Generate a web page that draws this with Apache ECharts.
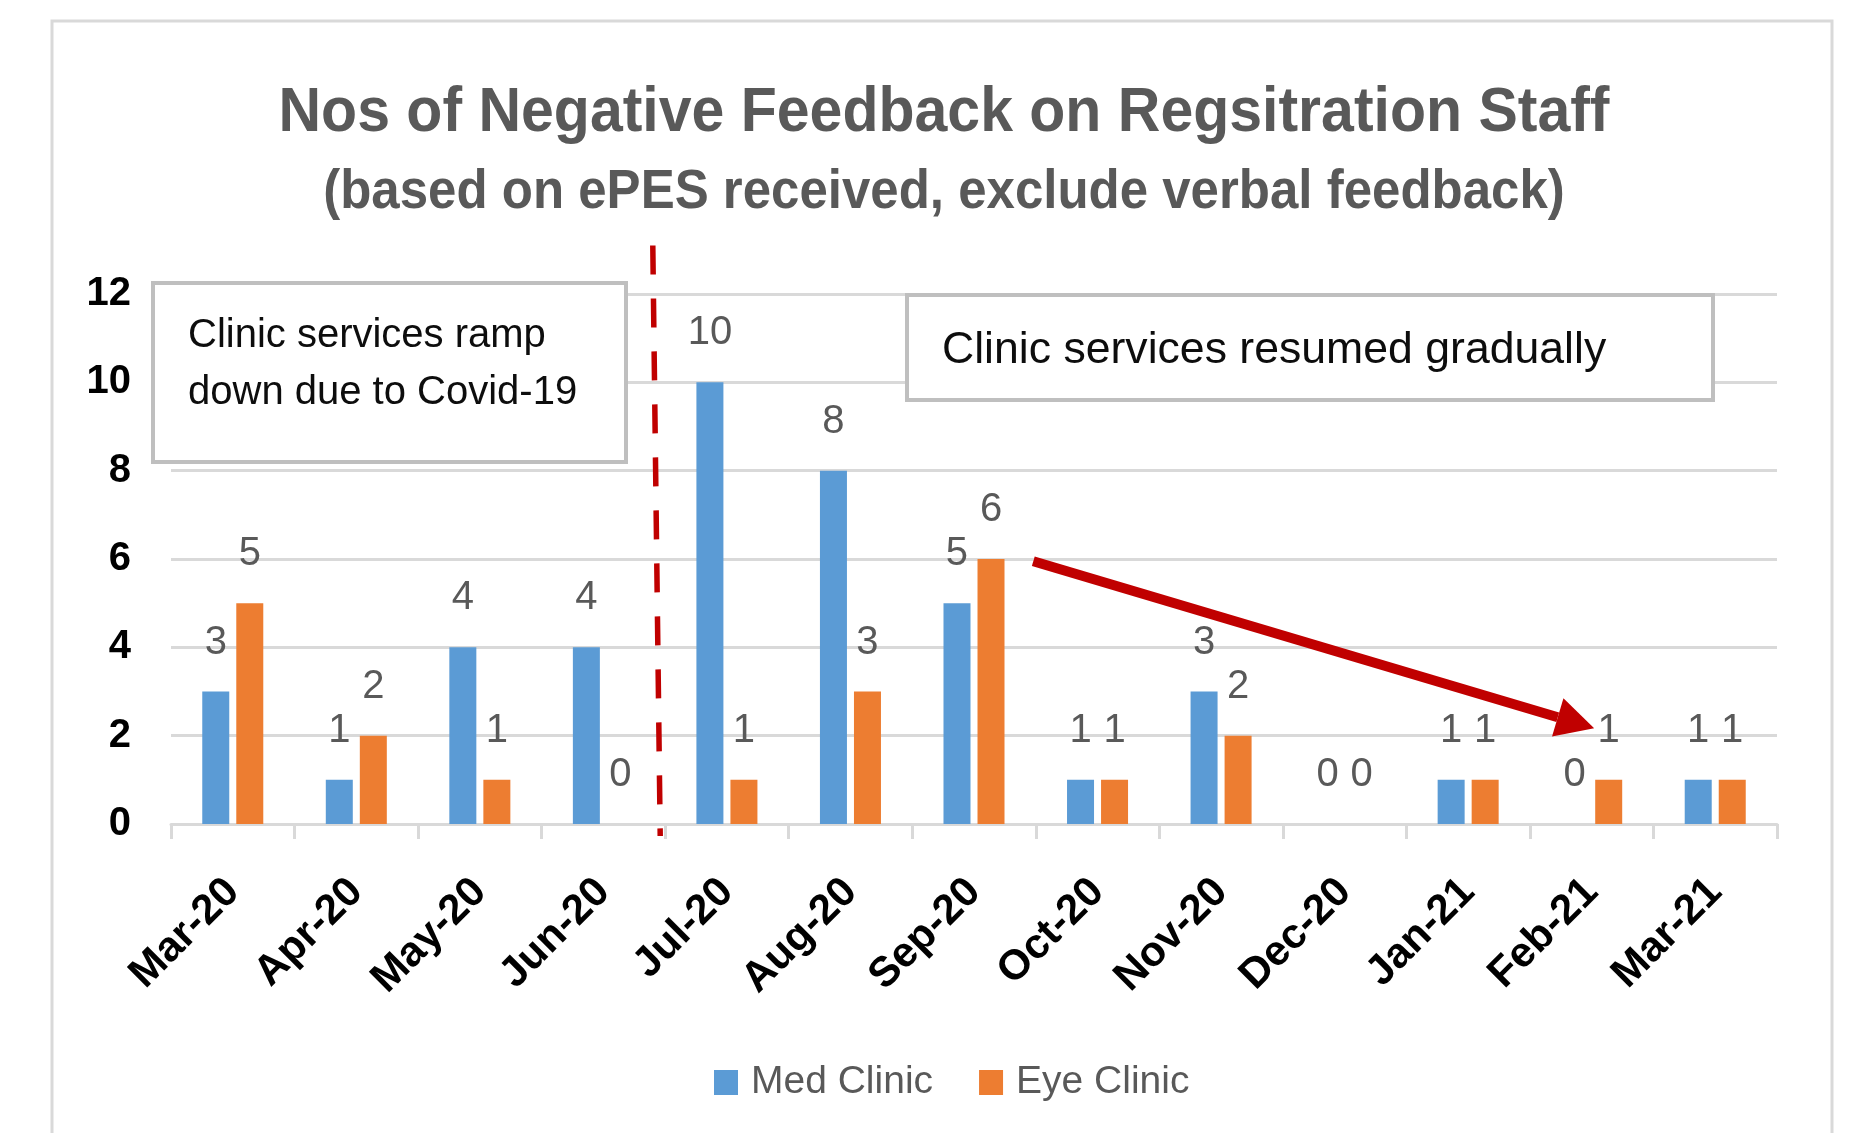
<!DOCTYPE html>
<html>
<head>
<meta charset="utf-8">
<script src="https://cdn.jsdelivr.net/npm/echarts@6/dist/echarts.min.js"></script>
<style>
html,body{margin:0;padding:0;background:#fff;}
#c{width:1851px;height:1133px;}
</style>
</head>
<body>
<div id="c"></div>
<script>
const categories = ['Mar-20','Apr-20','May-20','Jun-20','Jul-20','Aug-20','Sep-20','Oct-20','Nov-20','Dec-20','Jan-21','Feb-21','Mar-21'];
const medClinic = [3,1,4,4,10,8,5,1,3,0,1,0,1];
const eyeClinic = [5,2,1,0,1,3,6,1,2,0,1,1,1];
const yMin = 0, yMax = 12, yStep = 2;
const titleText = 'Nos of Negative Feedback on Regsitration Staff';
const subtitleText = '(based on ePES received, exclude verbal feedback)';
const note1 = ['Clinic services ramp', 'down due to Covid-19'];
const note2 = 'Clinic services resumed gradually';

const FF = "'Liberation Sans',Arial,sans-serif";
const chart = echarts.init(document.getElementById('c'), null, {renderer:'canvas'});

const labelStyle = {
  show: true, position: 'top', distance: 29,
  fontFamily: FF, fontSize: 40, lineHeight: 40, color: '#595959'
};

const option = {
  animation: false,
  backgroundColor: '#fff',
  grid: {left: 171, right: 74, top: 294, bottom: 309, containLabel: false},
  legend: {
    data: ['Med Clinic','Eye Clinic'],
    left: 709, top: 1058,
    icon: 'rect', itemWidth: 24, itemHeight: 25, itemGap: 46,
    textStyle: {fontFamily: FF, fontSize: 39, color: '#595959', padding: [0,0,0,8]}
  },
  xAxis: {
    type: 'category', data: categories,
    axisLine: {lineStyle: {color: '#D9D9D9', width: 3}},
    axisTick: {show: true, length: 15, lineStyle: {color: '#D9D9D9', width: 3}},
    axisLabel: {rotate: 45, margin: 53, verticalAlign: 'top', lineHeight: 12, padding: [0, 6, 0, 0],
      fontFamily: FF, fontSize: 42, fontWeight: 'bold', color: '#000', interval: 0},
    splitLine: {show: false}
  },
  yAxis: {
    type: 'value', min: yMin, max: yMax, interval: yStep,
    axisLine: {show: false}, axisTick: {show: false},
    axisLabel: {margin: 40, fontFamily: FF, fontSize: 40, fontWeight: 'bold', color: '#000'},
    splitLine: {lineStyle: {color: '#D9D9D9', width: 3}}
  },
  series: [
    {name: 'Med Clinic', type: 'bar', data: medClinic, barWidth: 27, barGap: '26%',
     itemStyle: {color: '#5B9BD5'}, label: labelStyle},
    {name: 'Eye Clinic', type: 'bar', data: eyeClinic, barWidth: 27, barGap: '26%',
     itemStyle: {color: '#ED7D31'}, label: labelStyle}
  ]
};
chart.setOption(option);

function px(i, v) { return chart.convertToPixel({xAxisIndex: 0, yAxisIndex: 0}, [i, v]); }
const band = px(1, 0)[0] - px(0, 0)[0];
const cx = (i, f) => px(i, 0)[0] + f * band;
const cy = (v) => px(0, v)[1];

// dashed divider between Jun-20 and Jul-20
const dTop = [cx(3, 0.40), cy(13.1)];
const dBot = [cx(3, 0.46), cy(-0.27)];

// trend arrow from Sep-20 to Feb-21
const S = [cx(6, 0.48), cy(5.95)];
const T = [cx(11, 0.02), cy(2.17)];
const dx = T[0]-S[0], dy = T[1]-S[1], L = Math.hypot(dx, dy);
const u = [dx/L, dy/L], n = [-u[1], u[0]];
const headL = 38, headW = 20;
const B = [T[0]-u[0]*headL, T[1]-u[1]*headL];

const red = '#C00000';
chart.setOption({
  graphic: [
    {type: 'rect', z: 0, silent: true, shape: {x: 52, y: 21, width: 1780, height: 1160},
     style: {fill: 'none', stroke: '#D9D9D9', lineWidth: 3}},
    {type: 'text', silent: true, x: 944, y: 113.5, scaleY: 1.07,
     style: {text: titleText, x: 0, y: 0, textAlign: 'center', textVerticalAlign: 'middle',
      font: 'bold 59px ' + FF, fill: '#595959'}},
    {type: 'text', silent: true, x: 944, y: 192.5, scaleY: 1.07,
     style: {text: subtitleText, x: 0, y: 0, textAlign: 'center', textVerticalAlign: 'middle',
      font: 'bold 51px ' + FF, fill: '#595959'}},
    {type: 'rect', z: 10, silent: true, shape: {x: 153, y: 283, width: 473, height: 179},
     style: {fill: '#fff', stroke: '#BFBFBF', lineWidth: 4}},
    {type: 'text', z: 11, silent: true, style: {text: note1[0], x: 188, y: 336, textAlign: 'left', textVerticalAlign: 'middle',
      font: '40px ' + FF, fill: '#0D0D0D'}},
    {type: 'text', z: 11, silent: true, style: {text: note1[1], x: 188, y: 393, textAlign: 'left', textVerticalAlign: 'middle',
      font: '40px ' + FF, fill: '#0D0D0D'}},
    {type: 'rect', z: 10, silent: true, shape: {x: 907, y: 295, width: 806, height: 105},
     style: {fill: '#fff', stroke: '#BFBFBF', lineWidth: 4}},
    {type: 'text', z: 11, silent: true, style: {text: note2, x: 942, y: 351, textAlign: 'left', textVerticalAlign: 'middle',
      font: '44.6px ' + FF, fill: '#0D0D0D'}},
    {type: 'line', z: 12, silent: true, shape: {x1: dTop[0], y1: dTop[1], x2: dBot[0], y2: dBot[1]},
     style: {stroke: red, lineWidth: 5.5, lineDash: [29, 24]}},
    {type: 'line', z: 12, silent: true, shape: {x1: S[0], y1: S[1], x2: B[0], y2: B[1]},
     style: {stroke: red, lineWidth: 10}},
    {type: 'polygon', z: 12, silent: true, shape: {points: [T, [B[0]+n[0]*headW, B[1]+n[1]*headW], [B[0]-n[0]*headW, B[1]-n[1]*headW]]},
     style: {fill: red}}
  ]
});
</script>
</body>
</html>
